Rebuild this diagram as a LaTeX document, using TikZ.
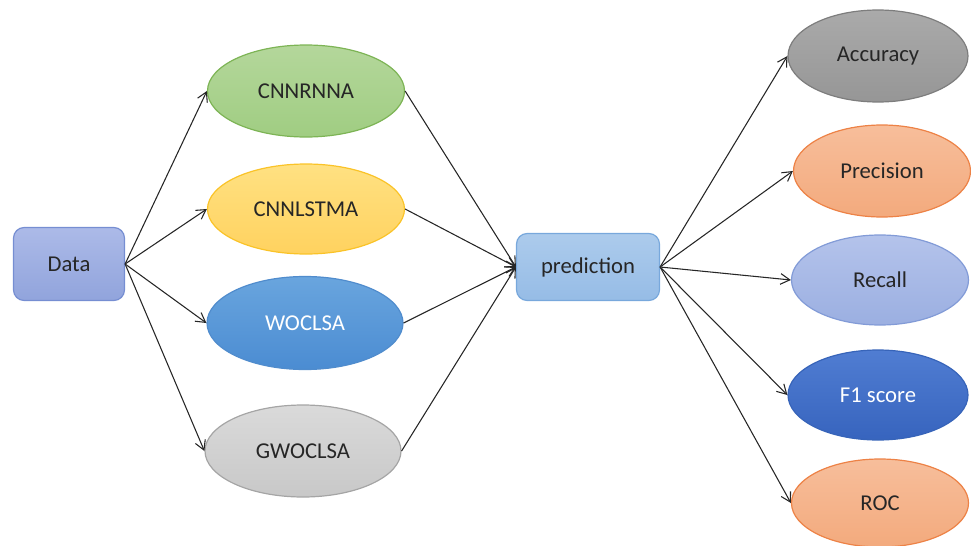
\documentclass[tikz,border=0pt]{standalone}
\usepackage{fontspec}
\setmainfont{Carlito}
\usetikzlibrary{shapes.geometric,arrows.meta}
\begin{document}
\begin{tikzpicture}[x=0.75pt,y=-0.75pt,
  lbl/.style={font=\fontsize{17}{19}\selectfont, text=black!85},
  box/.style={lbl, draw, line width=0.9pt, rounded corners=8pt, inner sep=0pt},
  oval/.style={lbl, ellipse, draw, line width=0.9pt, inner sep=0pt},
  link/.style={line width=0.8pt, black!85, -{Straight Barb[length=7pt,width=8pt]}}]
\useasboundingbox (0,0) rectangle (971,546);

% input and output boxes
\node[box, minimum width=83.25pt, minimum height=54.75pt, draw={rgb,255:red,118;green,142;blue,210},
      top color={rgb,255:red,172;green,186;blue,232}, bottom color={rgb,255:red,145;green,164;blue,220}] (data) at (69,264) {Data};
\node[box, minimum width=107.25pt, minimum height=50.25pt, draw={rgb,255:red,120;green,168;blue,220},
      top color={rgb,255:red,172;green,203;blue,236}, bottom color={rgb,255:red,150;green,188;blue,230}] (pred) at (588,267) {prediction};

% models
\node[oval, minimum width=147.75pt, minimum height=69pt, draw={rgb,255:red,125;green,180;blue,85},
      top color={rgb,255:red,180;green,215;blue,155}, bottom color={rgb,255:red,160;green,205;blue,130}] (m1) at (306,91) {CNNRNNA};
\node[oval, minimum width=147.75pt, minimum height=67.5pt, draw={rgb,255:red,250;green,195;blue,40},
      top color={rgb,255:red,255;green,225;blue,130}, bottom color={rgb,255:red,255;green,210;blue,95}] (m2) at (306,209) {CNNLSTMA};
\node[oval, minimum width=147pt, minimum height=69.75pt, draw={rgb,255:red,80;green,140;blue,205}, text=white,
      top color={rgb,255:red,105;green,165;blue,222}, bottom color={rgb,255:red,75;green,140;blue,210}] (m3) at (305,323) {WOCLSA};
\node[oval, minimum width=147pt, minimum height=69pt, draw={rgb,255:red,165;green,165;blue,165},
      top color={rgb,255:red,218;green,218;blue,218}, bottom color={rgb,255:red,200;green,200;blue,200}] (m4) at (303,451) {GWOCLSA};

% metrics
\node[oval, minimum width=135pt, minimum height=69pt, draw={rgb,255:red,125;green,125;blue,125},
      top color={rgb,255:red,170;green,170;blue,170}, bottom color={rgb,255:red,150;green,150;blue,150}] (r1) at (878,56) {Accuracy};
\node[oval, minimum width=132.75pt, minimum height=69pt, draw={rgb,255:red,237;green,130;blue,70},
      top color={rgb,255:red,247;green,190;blue,155}, bottom color={rgb,255:red,243;green,170;blue,125}] (r2) at (882,171) {Precision};
\node[oval, minimum width=132.75pt, minimum height=67.5pt, draw={rgb,255:red,130;green,155;blue,215},
      top color={rgb,255:red,180;green,195;blue,235}, bottom color={rgb,255:red,155;green,175;blue,225}] (r3) at (880,280) {Recall};
\node[oval, minimum width=135pt, minimum height=67.5pt, draw={rgb,255:red,55;green,100;blue,185}, text=white,
      top color={rgb,255:red,80;green,125;blue,210}, bottom color={rgb,255:red,55;green,100;blue,190}] (r4) at (878,395) {F1 score};
\node[oval, minimum width=132.75pt, minimum height=66pt, draw={rgb,255:red,237;green,130;blue,70},
      top color={rgb,255:red,247;green,190;blue,155}, bottom color={rgb,255:red,243;green,170;blue,125}] (r5) at (880,503) {ROC};

% connectors
\foreach \m in {m1,m2,m3,m4} {
  \draw[link] (data.east) -- (\m.west);
  \draw[link] (\m.east) -- (pred.west);
}
\foreach \r in {r1,r2,r3,r4,r5}
  \draw[link] (pred.east) -- (\r.west);
\end{tikzpicture}
\end{document}
